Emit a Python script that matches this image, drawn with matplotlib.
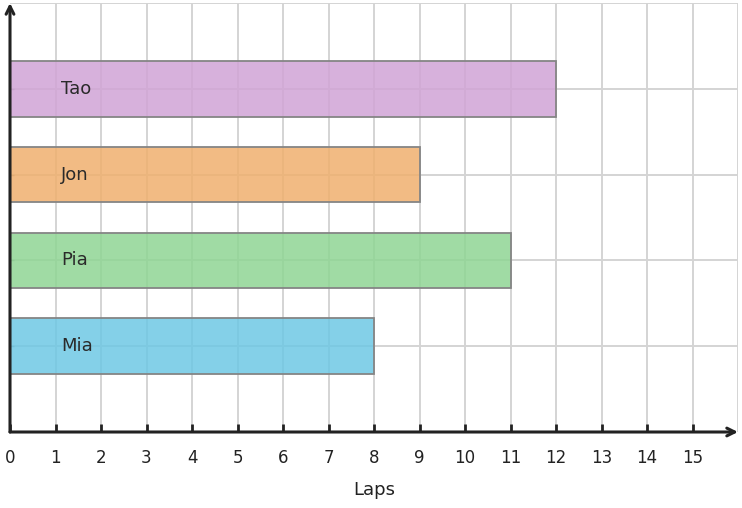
from matplotlib import pyplot as plt
import numpy as np

names = ["Mia", "Pia", "Jon", "Tao"]
laps = [8, 11, 9, 12]
colors = ["#6ec8e4", "#8fd594", "#f0b06e", "#d1a4d6"]
xticks = list(range(0, 16))

fig = plt.figure(figsize=(7.42, 5.08), dpi=100)
ax = fig.add_axes([10 / 742, 76 / 508, 728 / 742, 429 / 508])

ypos = np.arange(1, len(names) + 1)
# semi transparent bars, grid shows through
ax.barh(ypos, laps, height=0.65, color=colors, alpha=0.85,
        zorder=3)
ax.barh(ypos, laps, height=0.65, color="none", edgecolor="#858585",
        linewidth=1.3, zorder=3)
for y, n in zip(ypos, names):
    ax.text(1.12, y, n, va="center", ha="left", fontsize=13,
            color="#2a2a2a", zorder=4)

ax.set_xlim(0, 16)
ax.set_ylim(0, 5)
for x in range(1, 17):
    ax.axvline(x, color="#d4d4d4", lw=1.4, zorder=1)
for y in range(1, 6):
    ax.axhline(y, color="#d4d4d4", lw=1.4, zorder=1)

for s in ax.spines.values():
    s.set_visible(False)

ax.set_xticks(xticks)
ax.set_xticklabels([str(t) for t in xticks], fontsize=12, color="#222222")
ax.tick_params(axis="x", direction="in", length=6, width=2, color="#222222",
               pad=12)
ax.set_yticks(ypos)
ax.set_yticklabels([])
ax.tick_params(axis="y", direction="in", length=3, width=1, color="#999999")
ax.set_xlabel("Laps", fontsize=13, color="#222222", labelpad=10)

# axis lines with arrow heads
ax.annotate("", xy=(16.0, 0), xytext=(0, 0), annotation_clip=False,
            arrowprops=dict(arrowstyle="->", color="#222222", lw=2.2,
                            mutation_scale=14, shrinkA=0, shrinkB=0))
ax.annotate("", xy=(0, 5.0), xytext=(0, 0), annotation_clip=False,
            arrowprops=dict(arrowstyle="->", color="#222222", lw=2.2,
                            mutation_scale=14, shrinkA=0, shrinkB=0))

fig.savefig("out.png", dpi=100)
